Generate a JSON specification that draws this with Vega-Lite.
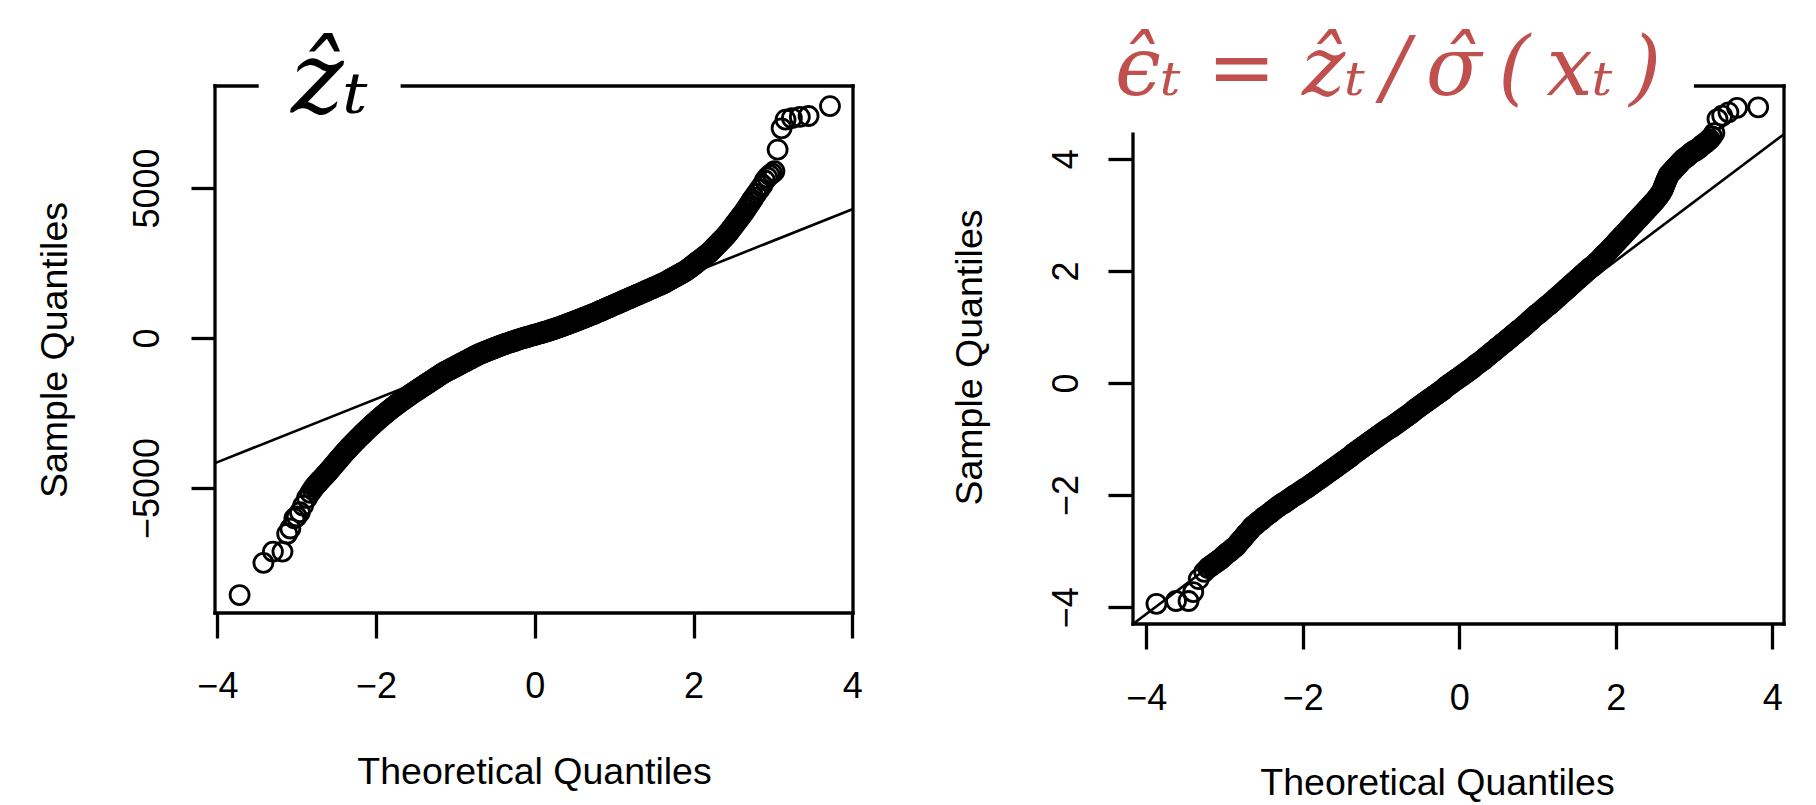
{
  "$schema": "https://vega.github.io/schema/vega-lite/v6.json",
  "background": "white",
  "padding": {"left": 36, "top": 28, "right": 10, "bottom": 2},
  "bounds": "flush",
  "spacing": 280,
  "config": {"view": {"stroke": null}, "font": "Liberation Sans"},
  "datasets": {
    "zL": [
      {"x":-3.72,"y":-8569},{"x":-3.42,"y":-7496},{"x":-3.30,"y":-7121},{"x":-3.18,"y":-7121},{"x":-3.12,"y":-6525},{"x":-3.08,"y":-6350},{"x":-3.03,"y":-6014},{"x":-3.00,"y":-5950},{"x":-2.96,"y":-5809},{"x":-2.92,"y":-5588},{"x":-2.87,"y":-5332},{"x":-2.83,"y":-5162},{"x":-2.80,"y":-5050},{"x":-2.78,"y":-4970},
      {"x":-2.76,"y":-4906},{"x":-2.74,"y":-4849},{"x":-2.72,"y":-4792},{"x":-2.70,"y":-4736},{"x":-2.68,"y":-4679},{"x":-2.66,"y":-4622},{"x":-2.64,"y":-4565},{"x":-2.62,"y":-4507},{"x":-2.60,"y":-4449},{"x":-2.58,"y":-4387},{"x":-2.56,"y":-4325},{"x":-2.54,"y":-4263},{"x":-2.52,"y":-4201},{"x":-2.50,"y":-4139},{"x":-2.48,"y":-4077},{"x":-2.46,"y":-4016},{"x":-2.44,"y":-3954},{"x":-2.42,"y":-3892},{"x":-2.40,"y":-3830},
      {"x":-2.38,"y":-3772},{"x":-2.36,"y":-3715},{"x":-2.34,"y":-3659},{"x":-2.32,"y":-3602},{"x":-2.30,"y":-3547},{"x":-2.28,"y":-3492},{"x":-2.26,"y":-3438},{"x":-2.24,"y":-3384},{"x":-2.22,"y":-3330},{"x":-2.20,"y":-3278},{"x":-2.18,"y":-3225},{"x":-2.16,"y":-3174},{"x":-2.14,"y":-3123},{"x":-2.12,"y":-3072},{"x":-2.10,"y":-3022},{"x":-2.08,"y":-2972},{"x":-2.06,"y":-2924},{"x":-2.04,"y":-2875},{"x":-2.02,"y":-2827},{"x":-2.00,"y":-2780},{"x":-1.98,"y":-2733},{"x":-1.96,"y":-2687},{"x":-1.94,"y":-2642},{"x":-1.92,"y":-2596},{"x":-1.90,"y":-2552},{"x":-1.88,"y":-2508},{"x":-1.86,"y":-2465},{"x":-1.84,"y":-2422},{"x":-1.82,"y":-2379},{"x":-1.80,"y":-2338},{"x":-1.78,"y":-2296},{"x":-1.76,"y":-2256},{"x":-1.74,"y":-2216},{"x":-1.72,"y":-2176},{"x":-1.70,"y":-2137},{"x":-1.68,"y":-2098},{"x":-1.66,"y":-2061},{"x":-1.64,"y":-2023},{"x":-1.62,"y":-1986},{"x":-1.60,"y":-1950},{"x":-1.58,"y":-1913},{"x":-1.56,"y":-1876},
      {"x":-1.54,"y":-1838},{"x":-1.52,"y":-1803},{"x":-1.50,"y":-1768},{"x":-1.48,"y":-1733},{"x":-1.46,"y":-1699},{"x":-1.44,"y":-1664},{"x":-1.42,"y":-1629},{"x":-1.40,"y":-1594},{"x":-1.38,"y":-1559},{"x":-1.36,"y":-1524},{"x":-1.34,"y":-1490},{"x":-1.32,"y":-1455},{"x":-1.30,"y":-1420},{"x":-1.28,"y":-1385},{"x":-1.26,"y":-1350},{"x":-1.24,"y":-1315},{"x":-1.22,"y":-1280},{"x":-1.20,"y":-1245},{"x":-1.18,"y":-1210},{"x":-1.16,"y":-1175},{"x":-1.14,"y":-1146},{"x":-1.12,"y":-1116},{"x":-1.10,"y":-1089},{"x":-1.08,"y":-1061},{"x":-1.06,"y":-1034},{"x":-1.04,"y":-1006},{"x":-1.02,"y":-978},{"x":-1.00,"y":-950},{"x":-0.98,"y":-923},{"x":-0.96,"y":-895},{"x":-0.94,"y":-867},{"x":-0.92,"y":-839},{"x":-0.90,"y":-812},{"x":-0.88,"y":-784},{"x":-0.86,"y":-756},{"x":-0.84,"y":-728},{"x":-0.82,"y":-701},{"x":-0.80,"y":-673},{"x":-0.78,"y":-645},{"x":-0.76,"y":-617},{"x":-0.74,"y":-590},
      {"x":-0.72,"y":-562},{"x":-0.70,"y":-539},{"x":-0.68,"y":-517},{"x":-0.66,"y":-494},{"x":-0.64,"y":-472},{"x":-0.62,"y":-450},{"x":-0.60,"y":-428},{"x":-0.58,"y":-407},{"x":-0.56,"y":-386},{"x":-0.54,"y":-365},{"x":-0.52,"y":-344},{"x":-0.50,"y":-324},{"x":-0.48,"y":-304},{"x":-0.46,"y":-284},{"x":-0.44,"y":-264},{"x":-0.42,"y":-245},{"x":-0.40,"y":-225},{"x":-0.38,"y":-206},{"x":-0.36,"y":-188},{"x":-0.34,"y":-169},{"x":-0.32,"y":-151},{"x":-0.30,"y":-133},{"x":-0.28,"y":-115},{"x":-0.26,"y":-98},{"x":-0.24,"y":-81},{"x":-0.22,"y":-64},{"x":-0.20,"y":-47},{"x":-0.18,"y":-30},{"x":-0.16,"y":-14},{"x":-0.14,"y":2},{"x":-0.12,"y":18},{"x":-0.10,"y":33},{"x":-0.08,"y":49},{"x":-0.06,"y":64},{"x":-0.04,"y":78},{"x":-0.02,"y":93},{"x":0.00,"y":108},{"x":0.02,"y":123},{"x":0.04,"y":138},{"x":0.06,"y":153},{"x":0.08,"y":168},{"x":0.10,"y":184},{"x":0.12,"y":200},{"x":0.14,"y":216},{"x":0.16,"y":232},{"x":0.18,"y":249},{"x":0.20,"y":266},{"x":0.22,"y":283},{"x":0.24,"y":300},{"x":0.26,"y":318},{"x":0.28,"y":336},{"x":0.30,"y":354},{"x":0.32,"y":373},{"x":0.34,"y":392},{"x":0.36,"y":411},{"x":0.38,"y":431},{"x":0.40,"y":451},{"x":0.42,"y":471},{"x":0.44,"y":491},{"x":0.46,"y":511},{"x":0.48,"y":531},{"x":0.50,"y":551},{"x":0.52,"y":572},{"x":0.54,"y":592},{"x":0.56,"y":613},{"x":0.58,"y":634},{"x":0.60,"y":655},{"x":0.62,"y":676},{"x":0.64,"y":697},{"x":0.66,"y":718},{"x":0.68,"y":739},{"x":0.70,"y":761},{"x":0.72,"y":780},
      {"x":0.74,"y":802},{"x":0.76,"y":823},{"x":0.78,"y":847},{"x":0.80,"y":870},{"x":0.82,"y":893},{"x":0.84,"y":916},{"x":0.86,"y":940},{"x":0.88,"y":963},{"x":0.90,"y":987},{"x":0.92,"y":1010},{"x":0.94,"y":1033},{"x":0.96,"y":1056},{"x":0.98,"y":1080},{"x":1.00,"y":1103},{"x":1.02,"y":1126},{"x":1.04,"y":1149},{"x":1.06,"y":1173},{"x":1.08,"y":1196},{"x":1.10,"y":1219},{"x":1.12,"y":1242},{"x":1.14,"y":1266},{"x":1.16,"y":1289},{"x":1.18,"y":1312},{"x":1.20,"y":1335},{"x":1.22,"y":1358},{"x":1.24,"y":1381},{"x":1.26,"y":1405},{"x":1.28,"y":1428},{"x":1.30,"y":1451},{"x":1.32,"y":1474},{"x":1.34,"y":1498},{"x":1.36,"y":1521},{"x":1.38,"y":1544},{"x":1.40,"y":1567},{"x":1.42,"y":1591},{"x":1.44,"y":1614},{"x":1.46,"y":1637},{"x":1.48,"y":1660},{"x":1.50,"y":1684},{"x":1.52,"y":1707},{"x":1.54,"y":1730},{"x":1.56,"y":1753},{"x":1.58,"y":1777},{"x":1.60,"y":1800},{"x":1.62,"y":1826},{"x":1.64,"y":1852},{"x":1.66,"y":1882},{"x":1.68,"y":1911},{"x":1.70,"y":1941},{"x":1.72,"y":1970},{"x":1.74,"y":2000},{"x":1.76,"y":2029},{"x":1.78,"y":2058},{"x":1.80,"y":2087},{"x":1.82,"y":2117},{"x":1.84,"y":2146},{"x":1.86,"y":2176},{"x":1.88,"y":2205},{"x":1.90,"y":2238},{"x":1.92,"y":2270},{"x":1.94,"y":2311},{"x":1.96,"y":2352},{"x":1.98,"y":2393},{"x":2.00,"y":2434},{"x":2.02,"y":2475},{"x":2.04,"y":2516},{"x":2.06,"y":2557},{"x":2.08,"y":2598},{"x":2.10,"y":2640},{"x":2.12,"y":2681},{"x":2.14,"y":2722},{"x":2.16,"y":2763},{"x":2.18,"y":2804},{"x":2.20,"y":2845},{"x":2.22,"y":2899},{"x":2.24,"y":2953},{"x":2.26,"y":3008},{"x":2.28,"y":3062},{"x":2.30,"y":3116},{"x":2.32,"y":3170},{"x":2.34,"y":3224},{"x":2.36,"y":3278},{"x":2.38,"y":3333},{"x":2.40,"y":3387},{"x":2.42,"y":3449},{"x":2.44,"y":3511},{"x":2.46,"y":3581},{"x":2.48,"y":3650},{"x":2.50,"y":3720},{"x":2.52,"y":3790},{"x":2.54,"y":3860},{"x":2.56,"y":3929},{"x":2.58,"y":3999},{"x":2.60,"y":4068},{"x":2.62,"y":4138},{"x":2.64,"y":4208},{"x":2.66,"y":4288},{"x":2.68,"y":4367},{"x":2.70,"y":4447},{"x":2.72,"y":4526},{"x":2.74,"y":4606},{"x":2.76,"y":4685},
      {"x":2.79,"y":4804},{"x":2.83,"y":4950},{"x":2.87,"y":5100},{"x":2.90,"y":5250},{"x":2.93,"y":5350},{"x":2.96,"y":5430},{"x":2.99,"y":5490},{"x":3.02,"y":5560},{"x":3.06,"y":6280},{"x":3.11,"y":6990},{"x":3.16,"y":7280},{"x":3.24,"y":7330},{"x":3.34,"y":7370},{"x":3.45,"y":7400},{"x":3.72,"y":7730}
    ],
    "zR": [
      {"x":-3.87,"y":-3.94},{"x":-3.62,"y":-3.89},{"x":-3.46,"y":-3.89},{"x":-3.40,"y":-3.73},{"x":-3.33,"y":-3.50},{"x":-3.26,"y":-3.37},{"x":-3.21,"y":-3.30},{"x":-3.18,"y":-3.27},
      {"x":-3.16,"y":-3.25},{"x":-3.14,"y":-3.23},{"x":-3.12,"y":-3.21},{"x":-3.10,"y":-3.19},{"x":-3.08,"y":-3.17},{"x":-3.06,"y":-3.15},{"x":-3.04,"y":-3.13},{"x":-3.02,"y":-3.10},{"x":-3.00,"y":-3.08},{"x":-2.98,"y":-3.05},{"x":-2.96,"y":-3.03},{"x":-2.94,"y":-3.01},{"x":-2.92,"y":-2.99},{"x":-2.90,"y":-2.96},{"x":-2.88,"y":-2.94},{"x":-2.86,"y":-2.92},{"x":-2.84,"y":-2.89},{"x":-2.82,"y":-2.85},{"x":-2.80,"y":-2.82},{"x":-2.78,"y":-2.79},{"x":-2.76,"y":-2.76},{"x":-2.74,"y":-2.72},{"x":-2.72,"y":-2.69},{"x":-2.70,"y":-2.66},{"x":-2.68,"y":-2.63},{"x":-2.66,"y":-2.59},{"x":-2.64,"y":-2.56},{"x":-2.62,"y":-2.54},{"x":-2.60,"y":-2.52},{"x":-2.58,"y":-2.49},{"x":-2.56,"y":-2.47},{"x":-2.54,"y":-2.45},{"x":-2.52,"y":-2.43},{"x":-2.50,"y":-2.40},{"x":-2.48,"y":-2.38},{"x":-2.46,"y":-2.36},{"x":-2.44,"y":-2.34},{"x":-2.42,"y":-2.32},{"x":-2.40,"y":-2.30},{"x":-2.38,"y":-2.27},{"x":-2.36,"y":-2.25},{"x":-2.34,"y":-2.23},{"x":-2.32,"y":-2.21},{"x":-2.30,"y":-2.19},{"x":-2.28,"y":-2.17},{"x":-2.26,"y":-2.15},{"x":-2.24,"y":-2.14},{"x":-2.22,"y":-2.12},{"x":-2.20,"y":-2.10},{"x":-2.18,"y":-2.08},{"x":-2.16,"y":-2.06},{"x":-2.14,"y":-2.04},{"x":-2.12,"y":-2.02},{"x":-2.10,"y":-2.00},{"x":-2.08,"y":-1.99},{"x":-2.06,"y":-1.97},{"x":-2.04,"y":-1.95},{"x":-2.02,"y":-1.93},{"x":-2.00,"y":-1.91},{"x":-1.98,"y":-1.89},{"x":-1.96,"y":-1.88},{"x":-1.94,"y":-1.86},{"x":-1.92,"y":-1.84},{"x":-1.90,"y":-1.82},{"x":-1.88,"y":-1.80},{"x":-1.86,"y":-1.78},{"x":-1.84,"y":-1.76},{"x":-1.82,"y":-1.74},{"x":-1.80,"y":-1.72},{"x":-1.78,"y":-1.70},{"x":-1.76,"y":-1.68},{"x":-1.74,"y":-1.66},{"x":-1.72,"y":-1.64},{"x":-1.70,"y":-1.62},{"x":-1.68,"y":-1.60},{"x":-1.66,"y":-1.58},{"x":-1.64,"y":-1.56},{"x":-1.62,"y":-1.54},{"x":-1.60,"y":-1.52},{"x":-1.58,"y":-1.50},{"x":-1.56,"y":-1.48},{"x":-1.54,"y":-1.46},{"x":-1.52,"y":-1.44},{"x":-1.50,"y":-1.42},{"x":-1.48,"y":-1.40},{"x":-1.46,"y":-1.38},{"x":-1.44,"y":-1.36},{"x":-1.42,"y":-1.34},{"x":-1.40,"y":-1.32},{"x":-1.38,"y":-1.30},{"x":-1.36,"y":-1.27},{"x":-1.34,"y":-1.25},{"x":-1.32,"y":-1.23},{"x":-1.30,"y":-1.21},{"x":-1.28,"y":-1.19},{"x":-1.26,"y":-1.17},{"x":-1.24,"y":-1.15},{"x":-1.22,"y":-1.13},{"x":-1.20,"y":-1.11},
      {"x":-1.18,"y":-1.09},{"x":-1.16,"y":-1.07},{"x":-1.14,"y":-1.05},{"x":-1.12,"y":-1.03},{"x":-1.10,"y":-1.01},{"x":-1.08,"y":-0.99},{"x":-1.06,"y":-0.97},{"x":-1.04,"y":-0.95},{"x":-1.02,"y":-0.93},{"x":-1.00,"y":-0.91},{"x":-0.98,"y":-0.89},{"x":-0.96,"y":-0.87},{"x":-0.94,"y":-0.85},{"x":-0.92,"y":-0.83},{"x":-0.90,"y":-0.81},{"x":-0.88,"y":-0.80},{"x":-0.86,"y":-0.78},{"x":-0.84,"y":-0.76},{"x":-0.82,"y":-0.74},{"x":-0.80,"y":-0.72},{"x":-0.78,"y":-0.70},{"x":-0.76,"y":-0.68},{"x":-0.74,"y":-0.66},{"x":-0.72,"y":-0.64},{"x":-0.70,"y":-0.62},{"x":-0.68,"y":-0.60},{"x":-0.66,"y":-0.58},{"x":-0.64,"y":-0.56},{"x":-0.62,"y":-0.54},{"x":-0.60,"y":-0.52},{"x":-0.58,"y":-0.49},{"x":-0.56,"y":-0.47},{"x":-0.54,"y":-0.45},{"x":-0.52,"y":-0.43},{"x":-0.50,"y":-0.41},{"x":-0.48,"y":-0.39},{"x":-0.46,"y":-0.37},{"x":-0.44,"y":-0.35},{"x":-0.42,"y":-0.33},{"x":-0.40,"y":-0.31},{"x":-0.38,"y":-0.29},{"x":-0.36,"y":-0.27},{"x":-0.34,"y":-0.25},{"x":-0.32,"y":-0.23},{"x":-0.30,"y":-0.21},{"x":-0.28,"y":-0.19},{"x":-0.26,"y":-0.17},{"x":-0.24,"y":-0.15},{"x":-0.22,"y":-0.13},{"x":-0.20,"y":-0.11},{"x":-0.18,"y":-0.08},{"x":-0.16,"y":-0.06},{"x":-0.14,"y":-0.04},{"x":-0.12,"y":-0.02},{"x":-0.10,"y":0.00},{"x":-0.08,"y":0.02},{"x":-0.06,"y":0.04},{"x":-0.04,"y":0.06},{"x":-0.02,"y":0.08},{"x":0.00,"y":0.10},{"x":0.02,"y":0.12},{"x":0.04,"y":0.14},{"x":0.06,"y":0.16},{"x":0.08,"y":0.18},{"x":0.10,"y":0.20},{"x":0.12,"y":0.22},{"x":0.14,"y":0.24},{"x":0.16,"y":0.26},{"x":0.18,"y":0.28},{"x":0.20,"y":0.31},{"x":0.22,"y":0.33},{"x":0.24,"y":0.35},{"x":0.26,"y":0.37},{"x":0.28,"y":0.39},{"x":0.30,"y":0.41},{"x":0.32,"y":0.43},{"x":0.34,"y":0.46},{"x":0.36,"y":0.48},{"x":0.38,"y":0.50},{"x":0.40,"y":0.53},{"x":0.42,"y":0.55},{"x":0.44,"y":0.57},{"x":0.46,"y":0.59},{"x":0.48,"y":0.62},{"x":0.50,"y":0.64},{"x":0.52,"y":0.66},{"x":0.54,"y":0.69},{"x":0.56,"y":0.71},{"x":0.58,"y":0.73},{"x":0.60,"y":0.75},{"x":0.62,"y":0.78},{"x":0.64,"y":0.80},{"x":0.66,"y":0.82},{"x":0.68,"y":0.85},{"x":0.70,"y":0.87},{"x":0.72,"y":0.89},{"x":0.74,"y":0.92},{"x":0.76,"y":0.94},{"x":0.78,"y":0.96},{"x":0.80,"y":0.98},{"x":0.82,"y":1.01},{"x":0.84,"y":1.03},{"x":0.86,"y":1.06},{"x":0.88,"y":1.08},{"x":0.90,"y":1.11},
      {"x":0.92,"y":1.13},{"x":0.94,"y":1.16},{"x":0.96,"y":1.18},{"x":0.98,"y":1.21},{"x":1.00,"y":1.23},{"x":1.02,"y":1.25},{"x":1.04,"y":1.27},{"x":1.06,"y":1.30},{"x":1.08,"y":1.32},{"x":1.10,"y":1.35},{"x":1.12,"y":1.37},{"x":1.14,"y":1.39},{"x":1.16,"y":1.41},{"x":1.18,"y":1.44},{"x":1.20,"y":1.46},{"x":1.22,"y":1.49},{"x":1.24,"y":1.51},{"x":1.26,"y":1.54},{"x":1.28,"y":1.56},{"x":1.30,"y":1.59},{"x":1.32,"y":1.61},{"x":1.34,"y":1.64},{"x":1.36,"y":1.66},{"x":1.38,"y":1.69},{"x":1.40,"y":1.71},{"x":1.42,"y":1.74},{"x":1.44,"y":1.76},{"x":1.46,"y":1.79},{"x":1.48,"y":1.81},{"x":1.50,"y":1.84},{"x":1.52,"y":1.86},{"x":1.54,"y":1.89},{"x":1.56,"y":1.91},{"x":1.58,"y":1.94},{"x":1.60,"y":1.96},{"x":1.62,"y":1.99},{"x":1.64,"y":2.01},{"x":1.66,"y":2.04},{"x":1.68,"y":2.06},{"x":1.70,"y":2.08},{"x":1.72,"y":2.10},{"x":1.74,"y":2.13},{"x":1.76,"y":2.15},{"x":1.78,"y":2.18},{"x":1.80,"y":2.21},{"x":1.82,"y":2.24},{"x":1.84,"y":2.27},{"x":1.86,"y":2.30},{"x":1.88,"y":2.32},{"x":1.90,"y":2.35},{"x":1.92,"y":2.38},{"x":1.94,"y":2.41},{"x":1.96,"y":2.44},{"x":1.98,"y":2.47},{"x":2.00,"y":2.50},{"x":2.02,"y":2.53},{"x":2.04,"y":2.56},{"x":2.06,"y":2.59},{"x":2.08,"y":2.62},{"x":2.10,"y":2.65},{"x":2.12,"y":2.68},{"x":2.14,"y":2.71},{"x":2.16,"y":2.74},{"x":2.18,"y":2.77},{"x":2.20,"y":2.80},{"x":2.22,"y":2.83},{"x":2.24,"y":2.86},{"x":2.26,"y":2.89},{"x":2.28,"y":2.92},{"x":2.30,"y":2.95},{"x":2.32,"y":2.98},{"x":2.34,"y":3.01},{"x":2.36,"y":3.04},{"x":2.38,"y":3.07},{"x":2.40,"y":3.10},{"x":2.42,"y":3.13},{"x":2.44,"y":3.16},{"x":2.46,"y":3.19},{"x":2.48,"y":3.22},{"x":2.50,"y":3.25},{"x":2.52,"y":3.29},{"x":2.54,"y":3.32},{"x":2.56,"y":3.36},{"x":2.58,"y":3.40},{"x":2.60,"y":3.45},{"x":2.61,"y":3.49},{"x":2.62,"y":3.52},{"x":2.63,"y":3.56},{"x":2.64,"y":3.59},{"x":2.65,"y":3.63},{"x":2.66,"y":3.66},{"x":2.67,"y":3.69},{"x":2.68,"y":3.72},{"x":2.70,"y":3.75},{"x":2.72,"y":3.78},{"x":2.74,"y":3.81},{"x":2.76,"y":3.84},{"x":2.78,"y":3.87},{"x":2.80,"y":3.90},{"x":2.82,"y":3.93},{"x":2.84,"y":3.96},{"x":2.86,"y":3.99},{"x":2.88,"y":4.01},{"x":2.90,"y":4.03},{"x":2.92,"y":4.05},{"x":2.94,"y":4.08},{"x":2.96,"y":4.10},{"x":2.98,"y":4.12},{"x":3.00,"y":4.14},{"x":3.02,"y":4.15},{"x":3.04,"y":4.17},{"x":3.06,"y":4.19},{"x":3.08,"y":4.21},{"x":3.10,"y":4.24},{"x":3.12,"y":4.26},{"x":3.14,"y":4.28},{"x":3.16,"y":4.30},{"x":3.18,"y":4.33},{"x":3.20,"y":4.35},
      {"x":3.23,"y":4.40},{"x":3.26,"y":4.46},{"x":3.30,"y":4.71},{"x":3.36,"y":4.77},{"x":3.44,"y":4.83},{"x":3.55,"y":4.91},{"x":3.82,"y":4.92}
    ],
    "lineL": [{"x":-4.03,"y":-4170},{"x":4.01,"y":4300}],
    "lineR": [{"x":-4.17,"y":-4.30},{"x":4.15,"y":4.44}]
  },
  "hconcat": [
    {
      "width": 638,
      "height": 527,
      "title": {"text": "\u1e91\u209c", "anchor": "start", "frame": "group", "font": "DejaVu Serif", "fontStyle": "italic", "fontWeight": "normal", "fontSize": 100, "color": "black", "baseline": "alphabetic", "offset": 0, "dx": 76, "dy": 129},
      "layer": [
        {
          "data": {"name": "zL"},
          "mark": {"type": "point", "filled": false, "size": 361, "strokeWidth": 2.8, "color": "black", "opacity": 1},
          "encoding": {
            "x": {"field": "x", "type": "quantitative", "scale": {"domain": [-4.03, 4.01], "nice": false, "zero": false},
              "axis": {"values": [-4, -2, 0, 2, 4], "format": "d", "domain": false, "grid": false, "tickSize": 25, "tickWidth": 3.3, "tickColor": "black", "labelFont": "Liberation Sans", "labelFontSize": 36, "labelColor": "black", "labelPadding": 59, "labelBaseline": "alphabetic", "labelFlush": false, "labelOverlap": false, "labelBound": false, "title": "Theoretical Quantiles", "titleFont": "Liberation Sans", "titleFontSize": 37.5, "titleFontWeight": "normal", "titleColor": "black", "titleBaseline": "alphabetic", "titleAlign": "center", "titleX": 319, "titleY": 170}},
            "y": {"field": "y", "type": "quantitative", "scale": {"domain": [-9167, 8400], "nice": false, "zero": false},
              "axis": {"values": [-5000, 0, 5000], "format": "d", "domain": false, "grid": false, "tickSize": 24, "tickWidth": 3.3, "tickColor": "black", "labelFont": "Liberation Sans", "labelFontSize": 36, "labelColor": "black", "labelAngle": 270, "labelAlign": "center", "labelBaseline": "alphabetic", "labelPadding": 33, "labelFlush": false, "labelOverlap": false, "labelBound": false, "title": "Sample Quantiles", "titleFont": "Liberation Sans", "titleFontSize": 37.5, "titleFontWeight": "normal", "titleColor": "black", "titleAngle": 270, "titleBaseline": "alphabetic", "titleAlign": "center", "titleX": -149, "titleY": 263.5}}
          }
        },
        {
          "data": {"name": "lineL"},
          "mark": {"type": "line", "color": "black", "strokeWidth": 2.6},
          "encoding": {"x": {"field": "x", "type": "quantitative"}, "y": {"field": "y", "type": "quantitative"}}
        },
        {"data": {"values": [{}]}, "mark": {"type": "rule", "color": "black", "strokeWidth": 3.3, "strokeCap": "square"},
          "encoding": {"x": {"datum": -4.03, "type": "quantitative"}, "y": {"datum": -9167, "type": "quantitative"}, "y2": {"datum": 8400}}},
        {"data": {"values": [{}]}, "mark": {"type": "rule", "color": "black", "strokeWidth": 3.3, "strokeCap": "square"},
          "encoding": {"x": {"datum": 4.01, "type": "quantitative"}, "y": {"datum": -9167, "type": "quantitative"}, "y2": {"datum": 8400}}},
        {"data": {"values": [{}]}, "mark": {"type": "rule", "color": "black", "strokeWidth": 3.3, "strokeCap": "square"},
          "encoding": {"x": {"datum": -4.03, "type": "quantitative"}, "x2": {"datum": 4.01}, "y": {"datum": -9167, "type": "quantitative"}}},
        {"data": {"values": [{}]}, "mark": {"type": "rule", "color": "black", "strokeWidth": 3.3, "strokeCap": "square"},
          "encoding": {"x": {"datum": -4.03, "type": "quantitative"}, "x2": {"datum": -3.50}, "y": {"datum": 8400, "type": "quantitative"}}},
        {"data": {"values": [{}]}, "mark": {"type": "rule", "color": "black", "strokeWidth": 3.3, "strokeCap": "square"},
          "encoding": {"x": {"datum": -1.67, "type": "quantitative"}, "x2": {"datum": 4.01}, "y": {"datum": 8400, "type": "quantitative"}}}
      ]
    },
    {
      "width": 651,
      "height": 538,
      "title": {"text": "\u03f5\u0302\u209c = \u1e91\u209c\u2009/\u2009\u03c3\u0302\u2009(\u2009x\u209c\u2009)", "anchor": "start", "frame": "group", "font": "DejaVu Serif", "fontStyle": "italic", "fontWeight": "normal", "fontSize": 82, "color": "#C0504D", "baseline": "alphabetic", "offset": 0, "dx": -18, "dy": 93},
      "layer": [
        {
          "data": {"name": "zR"},
          "mark": {"type": "point", "filled": false, "size": 361, "strokeWidth": 2.8, "color": "black", "opacity": 1},
          "encoding": {
            "x": {"field": "x", "type": "quantitative", "scale": {"domain": [-4.17, 4.15], "nice": false, "zero": false},
              "axis": {"values": [-4, -2, 0, 2, 4], "format": "d", "domain": false, "grid": false, "tickSize": 25, "tickWidth": 3.3, "tickColor": "black", "labelFont": "Liberation Sans", "labelFontSize": 36, "labelColor": "black", "labelPadding": 60, "labelBaseline": "alphabetic", "labelFlush": false, "labelOverlap": false, "labelBound": false, "title": "Theoretical Quantiles", "titleFont": "Liberation Sans", "titleFontSize": 37.5, "titleFontWeight": "normal", "titleColor": "black", "titleBaseline": "alphabetic", "titleAlign": "center", "titleX": 304, "titleY": 170}},
            "y": {"field": "y", "type": "quantitative", "scale": {"domain": [-4.3, 5.3], "nice": false, "zero": false},
              "axis": {"values": [-4, -2, 0, 2, 4], "format": "d", "domain": false, "grid": false, "tickSize": 25, "tickWidth": 3.3, "tickColor": "black", "labelFont": "Liberation Sans", "labelFontSize": 36, "labelColor": "black", "labelAngle": 270, "labelAlign": "center", "labelBaseline": "alphabetic", "labelPadding": 31, "labelFlush": false, "labelOverlap": false, "labelBound": false, "title": "Sample Quantiles", "titleFont": "Liberation Sans", "titleFontSize": 37.5, "titleFontWeight": "normal", "titleColor": "black", "titleAngle": 270, "titleBaseline": "alphabetic", "titleAlign": "center", "titleX": -152, "titleY": 271}}
          }
        },
        {
          "data": {"name": "lineR"},
          "mark": {"type": "line", "color": "black", "strokeWidth": 2.6},
          "encoding": {"x": {"field": "x", "type": "quantitative"}, "y": {"field": "y", "type": "quantitative"}}
        },
        {"data": {"values": [{}]}, "mark": {"type": "rule", "color": "black", "strokeWidth": 3.3, "strokeCap": "square"},
          "encoding": {"x": {"datum": -4.17, "type": "quantitative"}, "y": {"datum": -4.3, "type": "quantitative"}, "y2": {"datum": 4.44}}},
        {"data": {"values": [{}]}, "mark": {"type": "rule", "color": "black", "strokeWidth": 3.3, "strokeCap": "square"},
          "encoding": {"x": {"datum": 4.15, "type": "quantitative"}, "y": {"datum": -4.3, "type": "quantitative"}, "y2": {"datum": 5.3}}},
        {"data": {"values": [{}]}, "mark": {"type": "rule", "color": "black", "strokeWidth": 3.3, "strokeCap": "square"},
          "encoding": {"x": {"datum": -4.17, "type": "quantitative"}, "x2": {"datum": 4.15}, "y": {"datum": -4.3, "type": "quantitative"}}},
        {"data": {"values": [{}]}, "mark": {"type": "rule", "color": "black", "strokeWidth": 3.3, "strokeCap": "square"},
          "encoding": {"x": {"datum": 3.02, "type": "quantitative"}, "x2": {"datum": 4.15}, "y": {"datum": 5.3, "type": "quantitative"}}}
      ]
    }
  ]
}
